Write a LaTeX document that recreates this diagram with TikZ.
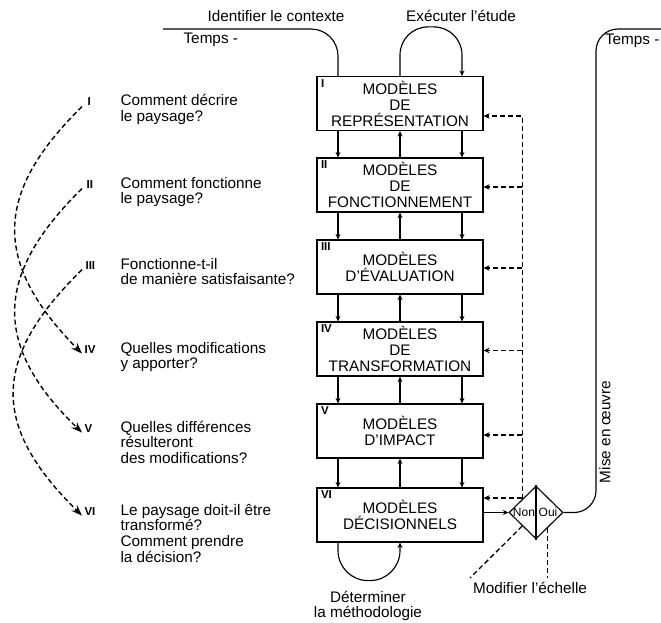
\documentclass[tikz,border=0pt]{standalone}
\usepackage{fontspec}
\setmainfont{Liberation Sans}
\usetikzlibrary{arrows.meta,shapes.geometric,calc}
\begin{document}
\begin{tikzpicture}[x=1pt,y=-1pt,line width=1.15pt,
  txt/.style={font=\fontsize{15.3}{15.6}\selectfont,inner sep=0pt},
  num/.style={font=\fontsize{11.5}{12}\selectfont\bfseries,inner sep=0pt},
  box/.style={draw,minimum width=166pt,minimum height=54pt,inner sep=0pt,align=center,font=\fontsize{15.3}{16}\selectfont},
  arr/.style={-{Stealth[length=5.5pt,width=5pt]}},
  fbl/.style={dash pattern=on 5pt off 3pt,line width=1.3pt,-{Stealth[length=6pt,width=5.5pt]}},
  dl/.style={dash pattern=on 5pt off 3pt,line width=1.3pt},
  dcurve/.style={dash pattern=on 5pt off 3pt,line width=1.4pt,-{Stealth[length=11pt,width=8pt]}}]
\useasboundingbox[fill=white] (0,0) rectangle (661,623);

% boxes
\node[box] (b1) at (400,103.5) {MODÈLES\\DE\\REPRÉSENTATION};
\node[box] (b2) at (400,185) {MODÈLES\\DE\\FONCTIONNEMENT};
\node[box] (b3) at (400,267) {MODÈLES\\D'ÉVALUATION};
\node[box] (b4) at (400,349) {MODÈLES\\DE\\TRANSFORMATION};
\node[box] (b5) at (400,431) {MODÈLES\\D'IMPACT};
\node[box] (b6) at (400,515) {MODÈLES\\DÉCISIONNELS};
\foreach \i/\r in {1/I,2/II,3/III,4/IV,5/V,6/VI}
  \node[num,anchor=north west] (bn\i) at ([shift={(4pt,-3pt)}]b\i.north west) {\r};

% vertical links between boxes
\foreach \a/\b in {1/2,2/3,3/4,4/5,5/6}{
  \draw[arr] ([xshift=-62pt]b\a.south) -- ([xshift=-62pt]b\b.north);
  \draw[arr] (b\b.north) -- (b\a.south);
  \draw[arr] ([xshift=62pt]b\a.south) -- ([xshift=62pt]b\b.north);
}

% top
\node[txt,anchor=base] (id) at (276,22) {Identifier le contexte};
\node[txt,anchor=base] (ex) at (461,22) {Exécuter l’étude};
\node[txt,anchor=base west] (t1) at (183,44) {Temps -};
\coordinate (tl) at (163,29);
\coordinate (c1) at ([xshift=-62pt]b1.north);
\coordinate (c3) at ([xshift=62pt]b1.north);
\draw[rounded corners=27pt] (tl) -| (c1);
\draw[arr,rounded corners=28pt] (b1.north) -- ++(0,-49) -| (c3);

% bottom loop
\draw[arr,rounded corners=30pt] ([xshift=-62pt]b6.south) -- ++(0,38) -| (b6.south);
\node[txt,anchor=base] (det) at (368,602) {\begin{tabular}[t]{@{}c@{}}Déterminer\\la méthodologie\end{tabular}};

% decision diamond
\node[draw,diamond,minimum width=54pt,minimum height=53pt,inner sep=0pt] (d) at (536,512.5) {};
\draw (d.north) -- (d.south);
\node[font=\fontsize{12}{12}\selectfont,inner sep=0pt] (non) at (524,512.5) {Non};
\node[font=\fontsize{12}{12}\selectfont,inner sep=0pt] (oui) at (548,512.5) {Oui};
\draw[arr] (b6.east |- d.west) -- (d.west);

% feedback
\coordinate (f1) at ($(b1.east)+(0,12.5)$);
\coordinate (f2) at ($(b2.east)+(0,2)$);
\coordinate (f3) at ($(b3.east)+(0,1)$);
\coordinate (f4) at ($(b4.east)+(0,1.5)$);
\coordinate (f5) at ($(b5.east)+(0,4)$);
\coordinate (f6) at ($(b6.east)+(0,-17)$);
\draw[fbl] (d.north west) |- (f1);
\foreach \i in {2,...,6} \draw[fbl] (d.north west |- f\i) -- (f\i);

% modifier
\coordinate (m1) at (470,578);
\coordinate (m2) at ($(d.south)!0.42!(d.east)$);
\coordinate (m3) at (m2 |- m1);
\draw[dl] (d.south west) -- (m1);
\draw[dl] (m2) -- (m3);
\node[txt,anchor=base] (mod) at (530,593) {Modifier l’échelle};

% mise en oeuvre
\coordinate (mc) at (596,29);
\coordinate (tr) at (661,29);
\draw[rounded corners=22pt] (d.east) -| (mc) [rounded corners=12pt] -- (tr);
\node[txt,rotate=90] (mise) at (605,432) {Mise en œuvre};
\node[txt,anchor=base east] (t2) at (660,45) {Temps -};

% left questions
\node[txt,anchor=base west] (q1) at (120,106) {\begin{tabular}[t]{@{}l@{}}Comment décrire\\le paysage?\end{tabular}};
\node[txt,anchor=base west] (q2) at (120,188) {\begin{tabular}[t]{@{}l@{}}Comment fonctionne\\le paysage?\end{tabular}};
\node[txt,anchor=base west] (q3) at (120,269) {\begin{tabular}[t]{@{}l@{}}Fonctionne-t-il\\de manière satisfaisante?\end{tabular}};
\node[txt,anchor=base west] (q4) at (120,353) {\begin{tabular}[t]{@{}l@{}}Quelles modifications\\y apporter?\end{tabular}};
\node[txt,anchor=base west] (q5) at (120,432) {\begin{tabular}[t]{@{}l@{}}Quelles différences\\résulteront\\des modifications?\end{tabular}};
\node[txt,anchor=base west] (q6) at (120,515) {\begin{tabular}[t]{@{}l@{}}Le paysage doit-il être\\transformé?\\Comment prendre\\la décision?\end{tabular}};
\node[num,anchor=base west] (n1) at (87,106) {I};
\node[num,anchor=base west] (n2) at (86,188) {II};
\node[num,anchor=base west] (n3) at (85,269) {III};
\node[num,anchor=base west] (n4) at (84,353) {IV};
\node[num,anchor=base west] (n5) at (84,432) {V};
\node[num,anchor=base west] (n6) at (84,515) {VI};

\draw[dcurve] ([xshift=-5pt]n1.south west) .. controls (-7,194) and (-7,263) .. ([xshift=-2pt]n4.south west);
\draw[dcurve] ([xshift=-4pt]n2.south west) .. controls (-7,276) and (-7,346) .. ([xshift=-2pt]n5.south west);
\draw[dcurve] ([xshift=-3pt]n3.south west) .. controls (-9,359) and (-9,426) .. ([xshift=-2pt]n6.south west);
\end{tikzpicture}
\end{document}
